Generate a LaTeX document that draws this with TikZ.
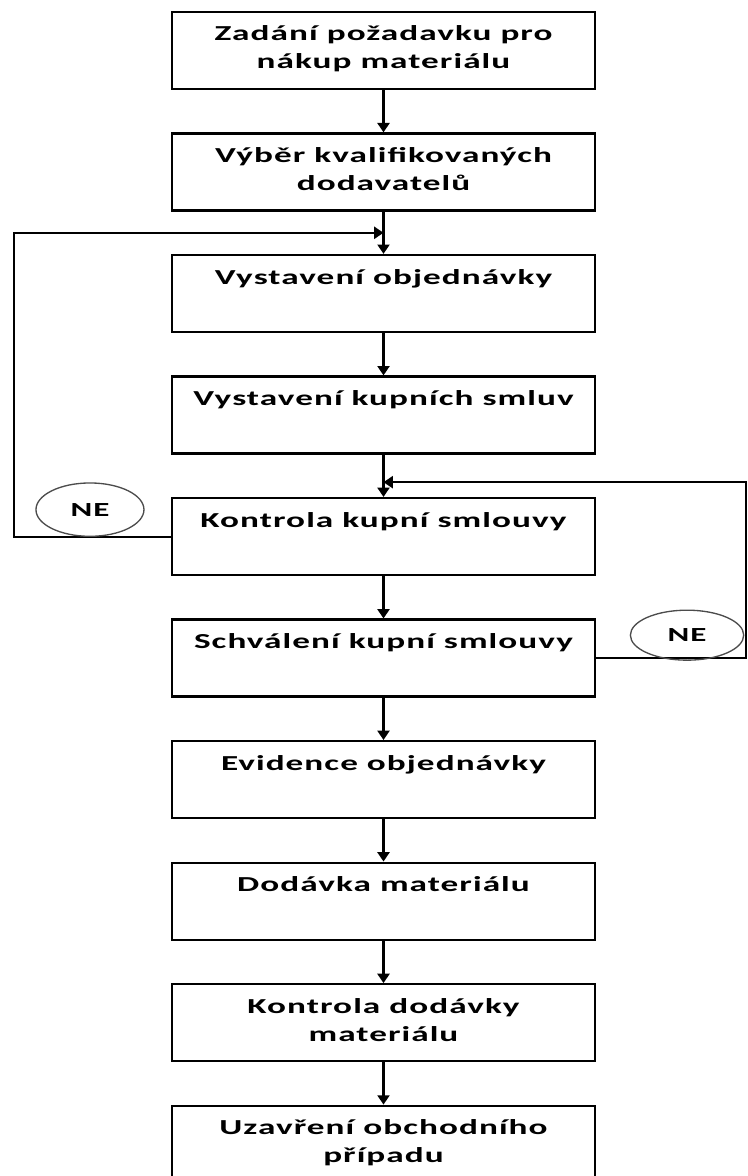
\documentclass[tikz,border=0pt]{standalone}
\usepackage{fontspec}
\setmainfont{Carlito}[FakeStretch=1.65,LetterSpace=5.0]
\usepackage{tikz}
\usetikzlibrary{arrows.meta}
\usetikzlibrary{calc,positioning,shapes.geometric}

\tikzset{
  stepbox/.style={draw, line width=1.8pt, inner sep=0pt, font=\bfseries},
  arr/.style={-{Triangle[length=7pt,width=9pt]}, line width=1.6pt},
  nebox/.style={ellipse, draw=black!70, line width=1pt, inner sep=0pt,
    minimum width=81pt, minimum height=40pt, font=\bfseries\fontsize{15}{18}\selectfont},
}
\newcommand{\boxtext}[1]{\parbox[c][57.75pt][t]{317pt}{\centering
  \fontsize{16}{21}\selectfont\vspace*{10.5pt}#1}}

\begin{document}
\begin{tikzpicture}[x=0.75pt,y=-0.75pt,node distance=31.6pt]
            \useasboundingbox (0,0) rectangle (747,1176);
            \node[stepbox] (b1) at (383.5,50.5) {\boxtext{Zadání požadavku pro\\nákup materiálu}};
            \node[stepbox,below=of b1] (b2) {\boxtext{Výběr kvalifikovaných\\dodavatelů}};
            \node[stepbox,below=of b2] (b3) {\boxtext{Vystavení objednávky}};
            \node[stepbox,below=of b3] (b4) {\boxtext{Vystavení kupních smluv}};
            \node[stepbox,below=of b4] (b5) {\boxtext{Kontrola kupní smlouvy}};
            \node[stepbox,below=of b5] (b6) {\boxtext{Schválení kupní smlouvy}};
            \node[stepbox,below=of b6] (b7) {\boxtext{Evidence objednávky}};
            \node[stepbox,below=of b7] (b8) {\boxtext{Dodávka materiálu}};
            \node[stepbox,below=of b8] (b9) {\boxtext{Kontrola dodávky\\materiálu}};
            \node[stepbox,below=of b9] (b10) {\boxtext{Uzavření obchodního\\případu}};
            \foreach \i/\j in {1/2,2/3,3/4,4/5,5/6,6/7,7/8,8/9,9/10}
                \draw[arr] (b\i) -- (b\j);
            % vratne vetve
            \coordinate (j1) at ($(b2.south)!0.5!(b3.north)$);
            \coordinate (j2) at ($(b4.south)!0.65!(b5.north)$);
            \coordinate (lx) at (14,0);
            \coordinate (rx) at (746,0);
            \draw[arr] (b5.west) -- (b5.west -| lx) |- (j1);
            \draw[arr] (b6.east) -- (b6.east -| rx) |- (j2);
            \node[nebox] (ne1) at ($(b5.west)+(-81,-27)$) {NE};
            \node[nebox,minimum width=85pt,minimum height=37.5pt] (ne2) at ($(b6.east)+(91,-23)$) {NE};
        \end{tikzpicture}
\end{document}
